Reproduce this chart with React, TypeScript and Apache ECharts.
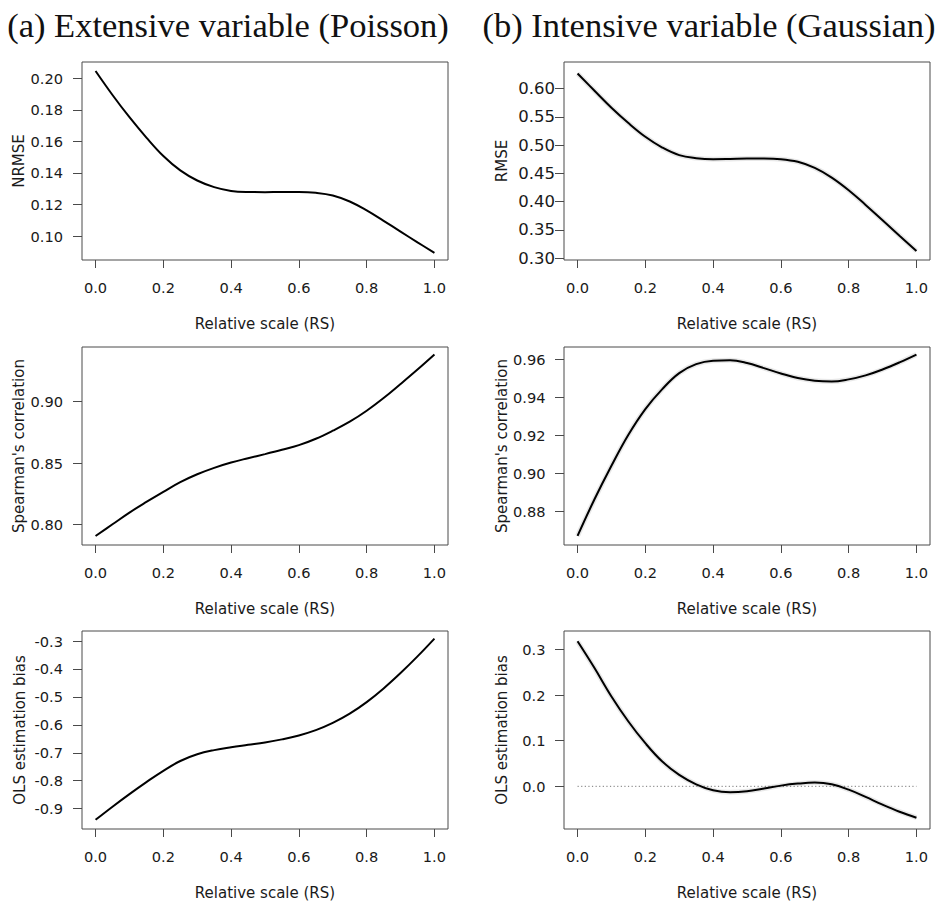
import { useEffect, useRef } from "react";
import * as echarts from "echarts";

// Relative scale (x) positions
const RS = [0, 0.05, 0.1, 0.15, 0.2, 0.25, 0.3, 0.35, 0.4, 0.45, 0.5, 0.55, 0.6, 0.65, 0.7, 0.75, 0.8, 0.85, 0.9, 0.95, 1.0];

// (a) Extensive variable (Poisson)
const NRMSE_POISSON = [0.2046, 0.1894, 0.1753, 0.1624, 0.1507, 0.1416, 0.1352, 0.131, 0.1286, 0.1279, 0.1278, 0.1279, 0.1279, 0.1274, 0.1257, 0.1219, 0.1162, 0.1096, 0.1028, 0.096, 0.0893];
const SPEARMAN_POISSON = [0.7908, 0.8003, 0.8098, 0.8184, 0.8266, 0.8345, 0.8409, 0.8461, 0.8504, 0.8539, 0.8572, 0.8607, 0.8645, 0.8697, 0.8762, 0.8835, 0.8924, 0.9027, 0.9141, 0.9258, 0.938];
const OLS_POISSON = [-0.94, -0.893, -0.848, -0.805, -0.7645, -0.7295, -0.7055, -0.6905, -0.68, -0.6715, -0.663, -0.652, -0.638, -0.619, -0.593, -0.56, -0.5186, -0.4696, -0.4146, -0.3551, -0.2914];

// (b) Intensive variable (Gaussian)
const RMSE_GAUSS = [0.6265, 0.5959, 0.5659, 0.5388, 0.5146, 0.4956, 0.4822, 0.4769, 0.4751, 0.4755, 0.4762, 0.4762, 0.4751, 0.4704, 0.4597, 0.4426, 0.4203, 0.3943, 0.3672, 0.34, 0.3129];
const SPEARMAN_GAUSS = [0.8673, 0.8865, 0.9041, 0.9204, 0.9339, 0.9444, 0.9528, 0.9575, 0.9593, 0.9595, 0.9581, 0.9554, 0.9526, 0.9502, 0.9488, 0.9484, 0.9495, 0.9516, 0.9547, 0.9584, 0.9625];
const OLS_GAUSS = [0.3176, 0.259, 0.1969, 0.142, 0.0944, 0.0542, 0.025, 0.0044, -0.0088, -0.0132, -0.011, -0.005, 0.0015, 0.0059, 0.0081, 0.0044, -0.0073, -0.0233, -0.0402, -0.0556, -0.0687];

// zero reference line (panel b, OLS)
const ZERO_X = [0, 1];
const ZERO_Y = [0, 0];

// tick labels
const X_TICKS = [0, 0.2, 0.4, 0.6, 0.8, 1.0];
const Y_TICKS_NRMSE = [0.1, 0.12, 0.14, 0.16, 0.18, 0.2];
const Y_TICKS_SP_P = [0.8, 0.85, 0.9];
const Y_TICKS_OLS_P = [-0.9, -0.8, -0.7, -0.6, -0.5, -0.4, -0.3];
const Y_TICKS_RMSE = [0.3, 0.35, 0.4, 0.45, 0.5, 0.55, 0.6];
const Y_TICKS_SP_G = [0.88, 0.9, 0.92, 0.94, 0.96];
const Y_TICKS_OLS_G = [0.0, 0.1, 0.2, 0.3];

const TITLES = ["(a) Extensive variable (Poisson)", "(b) Intensive variable (Gaussian)"];
const X_NAME = "Relative scale (RS)";

const FONT = "DejaVu Sans";
const BOX = "#4a4a4a";
const TXT = "#1a1a1a";

const pair = (xs: number[], ys: number[]) => xs.map((x, i) => [x, ys[i]]);

const PANELS = [
  { left: 82, top: 62, ys: NRMSE_POISSON, name: "NRMSE", ticks: Y_TICKS_NRMSE, dig: 2, min: 0.0848, max: 0.2103, band: false, lfs: 14.6, lm: 19 },
  { left: 82, top: 347, ys: SPEARMAN_POISSON, name: "Spearman's correlation", ticks: Y_TICKS_SP_P, dig: 2, min: 0.7835, max: 0.9441, band: false, lfs: 14.6, lm: 19 },
  { left: 82, top: 631, ys: OLS_POISSON, name: "OLS estimation bias", ticks: Y_TICKS_OLS_P, dig: 1, min: -0.9728, max: -0.2642, band: false, lfs: 14.6, lm: 19 },
  { left: 564, top: 62, ys: RMSE_GAUSS, name: "RMSE", ticks: Y_TICKS_RMSE, dig: 2, min: 0.297, max: 0.6467, band: true, lfs: 16.5, lm: 9 },
  { left: 564, top: 347, ys: SPEARMAN_GAUSS, name: "Spearman's correlation", ticks: Y_TICKS_SP_G, dig: 2, min: 0.8625, max: 0.9665, band: true, lfs: 14.6, lm: 18.5 },
  { left: 564, top: 631, ys: OLS_GAUSS, name: "OLS estimation bias", ticks: Y_TICKS_OLS_G, dig: 1, min: -0.0935, max: 0.3402, band: true, lfs: 14.6, lm: 18.5, zero: true },
];

export default function App() {
  const ref = useRef<HTMLDivElement>(null);
  useEffect(() => {
    document.body.style.margin = "0";
    const chart = echarts.init(ref.current!, null, { renderer: "svg" });
    const grid: any[] = [];
    const xAxis: any[] = [];
    const yAxis: any[] = [];
    const series: any[] = [];
    PANELS.forEach((p: any, i) => {
      grid.push({ left: p.left, top: p.top, width: 366, height: 198, show: true, borderColor: BOX, borderWidth: 1, backgroundColor: "transparent" });
      xAxis.push({
        type: "value", gridIndex: i, min: -0.04, max: 1.04, position: "bottom",
        axisLine: { show: false, onZero: false },
        splitLine: { show: false },
        axisTick: { show: true, inside: false, customValues: X_TICKS, length: 8, lineStyle: { color: BOX, width: 1 } },
        axisLabel: { show: true, customValues: X_TICKS, formatter: (v: number) => v.toFixed(1), margin: 19.5, color: TXT, fontFamily: FONT, fontSize: 14.6 },
        name: X_NAME, nameLocation: "middle", nameGap: 56,
        nameTextStyle: { color: TXT, fontFamily: FONT, fontSize: 15 },
      });
      yAxis.push({
        type: "value", gridIndex: i, min: p.min, max: p.max, position: "left",
        axisLine: { show: false, onZero: false },
        splitLine: { show: false },
        axisTick: { show: true, inside: false, customValues: p.ticks, length: 9, lineStyle: { color: BOX, width: 1 } },
        axisLabel: { show: true, customValues: p.ticks, formatter: (v: number) => v.toFixed(p.dig), margin: p.lm, color: TXT, fontFamily: FONT, fontSize: p.lfs },
        name: p.name, nameLocation: "middle", nameGap: 55, nameRotate: 90,
        nameTextStyle: { color: TXT, fontFamily: FONT, fontSize: 15 },
      });
      const data = pair(RS, p.ys);
      if (p.zero) {
        series.push({ type: "line", xAxisIndex: i, yAxisIndex: i, data: pair(ZERO_X, ZERO_Y), symbol: "none", silent: true, lineStyle: { color: "#777", width: 1, type: [1.2, 2.4] }, z: 1 });
      }
      if (p.band) {
        series.push({ type: "line", xAxisIndex: i, yAxisIndex: i, data, smooth: 0.4, symbol: "none", silent: true, lineStyle: { color: "rgba(0,0,0,0.09)", width: 5 }, z: 2 });
      }
      series.push({ type: "line", xAxisIndex: i, yAxisIndex: i, data, smooth: 0.4, symbol: "none", lineStyle: { color: "#000", width: 2 }, z: 3 });
    });
    chart.setOption({
      animation: false,
      backgroundColor: "#fff",
      grid, xAxis, yAxis, series,
      graphic: [
        { type: "text", x: 228, y: 25, style: { text: TITLES[0], fontFamily: "Liberation Serif", fontSize: 34.5, fill: "#111", align: "center", verticalAlign: "middle" } },
        { type: "text", x: 709, y: 25, style: { text: TITLES[1], fontFamily: "Liberation Serif", fontSize: 34.5, fill: "#111", align: "center", verticalAlign: "middle" } },
      ],
    });
    return () => chart.dispose();
  }, []);
  return <div ref={ref} style={{ width: 941, height: 903 }} />;
}
